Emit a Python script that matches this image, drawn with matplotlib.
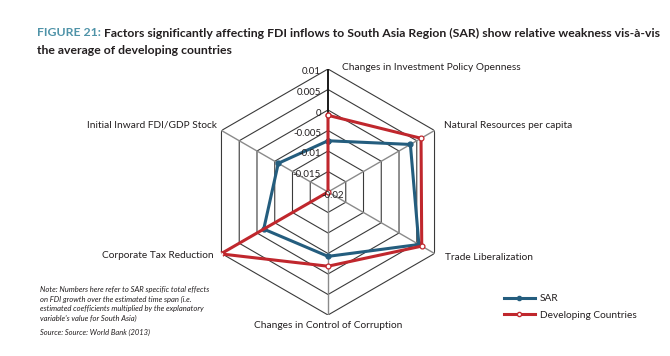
import numpy as np
import matplotlib
matplotlib.use("Agg")
import matplotlib.pyplot as plt
from matplotlib.lines import Line2D

plt.rcParams['font.family'] = ['Lato', 'DejaVu Sans']

# data
categories = ['Changes in Investment Policy Openness', 'Natural Resources per capita',
              'Trade Liberalization', 'Changes in Control of Corruption',
              'Corporate Tax Reduction', 'Initial Inward FDI/GDP Stock']
sar = [-0.0075, 0.0032, 0.0056, -0.0043, -0.0019, -0.006]
developing = [-0.0013, 0.0062, 0.0064, -0.0019, 0.0102, -0.02]
ticks = [-0.02, -0.015, -0.01, -0.005, 0, 0.005, 0.01]
tickLabels = ['-0.02', '-0.015', '-0.01', '-0.005', '0', '0.005', '0.01']

cSAR = '#245d7e'
cDev = '#c0272d'
txt = '#231f20'

W, H = 670, 356
cx, cy, R = 328, 164, 123  # centre from bottom, radius in pixels

fig = plt.figure(figsize=(W/100, H/100), dpi=100)
ax = fig.add_axes([(cx-R)/W, (cy-R)/H, 2*R/W, 2*R/H], projection='polar')
ax.set_theta_offset(np.pi/2)
ax.set_theta_direction(-1)
ax.set_ylim(ticks[0], ticks[-1])
ax.grid(False)
ax.spines['polar'].set_visible(False)
ax.set_xticks([])
ax.set_yticks([])
ax.patch.set_alpha(0)

n = len(categories)
ang = np.arange(n)*2*np.pi/n
angC = np.append(ang, ang[0])

# hexagonal rings
for t in ticks[1:]:
    ax.plot(angC, [t]*(n+1), color='#3a3a3a', lw=0.8, zorder=1)
# spokes
for i, a in enumerate(ang):
    ax.plot([a, a], [ticks[0], ticks[-1]], color='#1a1a1a' if i == 0 else '#8a8a8a',
            lw=1.4 if i == 0 else 1.0, zorder=1)

ax.plot(angC, np.append(sar, sar[0]), color=cSAR, lw=2.2, marker='o', ms=3.5,
        markerfacecolor=cSAR, zorder=3)
ax.plot(angC, np.append(developing, developing[0]), color=cDev, lw=2.2, marker='o', ms=3.5,
        markerfacecolor='white', markeredgecolor=cDev, markeredgewidth=0.9, zorder=4)

# radial tick labels along the top spoke
for t, lab in zip(ticks, tickLabels):
    if t == ticks[0]:
        ax.annotate(lab, (0, t), xytext=(5, -4), textcoords='offset pixels',
                    ha='center', va='center', fontsize=7, color=txt, zorder=5)
    else:
        ax.annotate(lab, (0, t), xytext=(-7, -3), textcoords='offset pixels',
                    ha='right', va='center', fontsize=7, color=txt, zorder=5)

# category labels
offs = [((14, 2), 'left', 'center'), ((9, 5), 'left', 'center'),
        ((10, -4), 'left', 'center'), ((0, -10), 'center', 'center'),
        ((-8, -2), 'right', 'center'), ((-4, 6), 'right', 'center')]
for a, lab, (o, ha, va) in zip(ang, categories, offs):
    ax.annotate(lab, (a, ticks[-1]), xytext=o, textcoords='offset pixels',
                ha=ha, va=va, fontsize=7.3, color=txt, annotation_clip=False)

# title
tfs = 8.8
t1 = fig.text(37/W, 1-33/H, 'FIGURE 21:', fontsize=tfs, fontweight='bold', color='#4f93a8',
              va='center')
fig.canvas.draw()
x1 = t1.get_window_extent().x1
fig.text((x1+3)/W, 1-33/H, 'Factors significantly affecting FDI inflows to South Asia Region (SAR) '
         'show relative weakness vis-\u00e0-vis', fontsize=tfs, fontweight='bold', color=txt,
         va='center')
fig.text(37/W, 1-50/H, 'the average of developing countries', fontsize=tfs,
         fontweight='bold', color=txt, va='center')

# note and source
fig.text(40/W, 1-286/H, 'Note: Numbers here refer to SAR specific total effects\n'
         'on FDI growth over the estimated time span (i.e.\n'
         'estimated coefficients multiplied by the explanatory\n'
         "variable's value for South Asia)", fontsize=5.5, style='italic', color=txt,
         va='top', linespacing=1.4)
fig.text(40/W, 1-332/H, 'Source: Source: World Bank (2013)', fontsize=5.4, style='italic',
         color=txt, va='center')

handles = [Line2D([], [], color=cSAR, lw=2.2, marker='o', ms=3, markevery=[0, 1],
                  markerfacecolor=cSAR),
           Line2D([], [], color=cDev, lw=2.2, marker='o', ms=3, markevery=[0, 1],
                  markerfacecolor='white', markeredgecolor=cDev)]
fig.legend(handles, ['SAR', 'Developing Countries'], loc='center left',
           bbox_to_anchor=(495/W, 1-307/H), frameon=False, fontsize=7.3,
           handlelength=3.0, handletextpad=0.5, labelspacing=0.75, labelcolor=txt)

fig.savefig('out.png', dpi=100)
